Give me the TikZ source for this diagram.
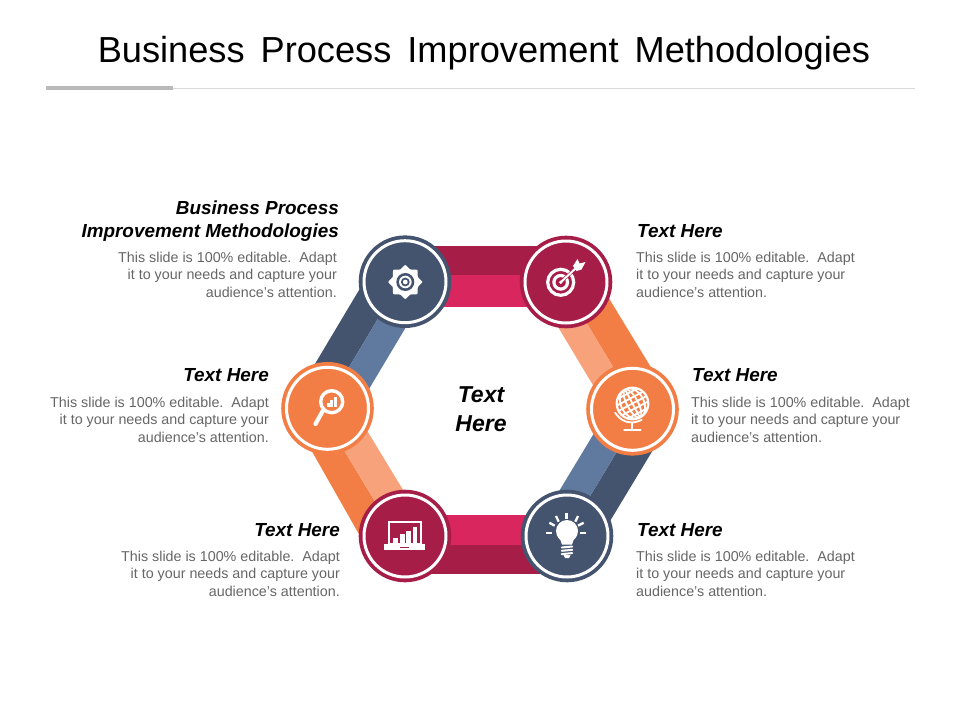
\documentclass[tikz,border=0pt]{standalone}
\usepackage{fontspec}
\setmainfont{Liberation Sans}
\usetikzlibrary{calc}
\definecolor{navy}{HTML}{44546F}
\definecolor{steel}{HTML}{5F7A9E}
\definecolor{orng}{HTML}{F37E45}
\definecolor{peach}{HTML}{F8A27C}
\definecolor{crim}{HTML}{A61E48}
\definecolor{pink}{HTML}{D9265E}
\definecolor{bodygrey}{HTML}{666666}
\newcommand{\hubbody}{\fontsize{14.3}{17.5}\selectfont\color{bodygrey}}
\newcommand{\hubhead}{\fontsize{18.9}{23}\selectfont\bfseries\itshape\color{black}}
\newcommand{\bodyL}{This slide is 100\% editable.\ \ Adapt\\it to your needs and capture your\\audience's attention.}
\newcommand{\ttlgap}{\hspace{16pt}}
\tikzset{
  x=1pt,y=-1pt,
  hub/.style={circle,minimum size=92.6pt,inner sep=0pt,fill=#1},
  ring/.style={draw=white,line width=3pt},
  bodyr/.style={anchor=north east,align=right,inner sep=0pt,font=\hubbody},
  bodyl/.style={anchor=north west,align=left,inner sep=0pt,font=\hubbody},
  headr/.style={anchor=base east,align=right,inner sep=0pt,font=\hubhead},
  headl/.style={anchor=base west,align=left,inner sep=0pt,font=\hubhead},
}
\begin{document}
\begin{tikzpicture}
\useasboundingbox (0,0) rectangle (960,720);
\fill[white] (0,0) rectangle (960,720);
% title
\node[inner sep=0pt,anchor=base,font=\fontsize{36.2}{40}\selectfont] (title) at (484,62.7) {Business\ttlgap Process\ttlgap Improvement\ttlgap Methodologies};
\coordinate (ruleA) at (46,88);
\coordinate (ruleB) at (173,88);
\coordinate (ruleC) at (915,88);
\draw[color=black!15,line width=1pt] (ruleB) -- (ruleC);
\draw[color=black!27,line width=3.5pt] (ruleA) -- (ruleB);
% hub anchors
\coordinate (gear) at (405,281.7);
\coordinate (target) at (566,282);
\coordinate (globe) at (632.5,409.3);
\coordinate (bulb) at (567,536);
\coordinate (laptop) at (405,536);
\coordinate (search) at (327.5,408.3);
% bands
\fill[crim] ($(gear)+(0,-35.7)$) rectangle ($(target)+(0,-7)$);
\fill[pink] ($(gear)+(0,-6.7)$) rectangle ($(target)+(0,25)$);
\fill[pink] ($(laptop)+(0,-21)$) rectangle ($(bulb)+(0,9)$);
\fill[crim] ($(laptop)+(0,9)$) rectangle ($(bulb)+(0,38)$);
\fill[navy] ($(gear)+(-41,0)$) -- ($(gear)+(-5,0)$) -- ($(search)+(-3,0)$) -- ($(search)+(-39,0)$) -- cycle;
\fill[steel] ($(gear)+(-5,0)$) -- ($(gear)+(28,0)$) -- ($(search)+(30,0)$) -- ($(search)+(-3,0)$) -- cycle;
\fill[orng] ($(search)+(-40,0)$) -- ($(search)+(-9,0)$) -- ($(laptop)+(-9,0)$) -- ($(laptop)+(-45,0)$) -- cycle;
\fill[peach] ($(search)+(-9,0)$) -- ($(search)+(26,0)$) -- ($(laptop)+(26,0)$) -- ($(laptop)+(-9,0)$) -- cycle;
\fill[orng] ($(target)+(33,0)$) -- ($(target)+(-4,0)$) -- ($(globe)+(6,0)$) -- ($(globe)+(44,0)$) -- cycle;
\fill[peach] ($(target)+(-4,0)$) -- ($(target)+(-35,0)$) -- ($(globe)+(-25,0)$) -- ($(globe)+(6,0)$) -- cycle;
\fill[navy] ($(globe)+(45,0)$) -- ($(globe)+(10,0)$) -- ($(bulb)+(-1,0)$) -- ($(bulb)+(34,0)$) -- cycle;
\fill[steel] ($(globe)+(10,0)$) -- ($(globe)+(-24,0)$) -- ($(bulb)+(-35,0)$) -- ($(bulb)+(-1,0)$) -- cycle;
% hubs
\node[hub=navy] (hubgear) at (gear) {};
\node[hub=crim] (hubtarget) at (target) {};
\node[hub=orng] (hubglobe) at (globe) {};
\node[hub=navy] (hubbulb) at (bulb) {};
\node[hub=crim] (hublaptop) at (laptop) {};
\node[hub=orng] (hubsearch) at (search) {};
\foreach \h in {gear,target,globe,bulb,laptop,search}{
  \draw[ring] (\h) circle (41);
}
% gear icon
\begin{scope}[shift={(405.3,282)}]
\fill[white] plot[smooth cycle,tension=.3] coordinates {
  (0,-17) (5,-12.6) (12,-12) (12.6,-5) (17,0) (12.6,5) (12,12) (5,12.6) (0,17) (-5,12.6) (-12,12) (-12.6,5) (-17,0) (-12.6,-5) (-12,-12) (-5,-12.6)};
\fill[navy] (0,0) circle (9);
\fill[white] (0,0) circle (6.3);
\fill[navy] (0,0) circle (4.4);
\fill[white] (0,0) circle (2.4);
\end{scope}
% target icon
\draw[white,line width=3.2pt] (560.7,282.3) circle (13);
\draw[white,line width=3.2pt] (560.7,282.3) circle (6.8);
\draw[crim,line width=3.2pt] (562.5,280.5) -- (576,268);
\fill[white] (560.7,282.3) circle (1.8);
\draw[white,line width=2pt,line cap=round] (560.7,282.3) -- (576,268);
\fill[white] (573,266) -- (577.5,259) -- (579.5,263.5) -- (585.5,262) -- (581.5,269.5) -- (576.5,271) -- cycle;
% search icon
\draw[white,line width=3.4pt] (331.7,401.7) circle (11);
\draw[white,line width=4.2pt,line cap=round] (323,410.5) -- (315.5,424);
\fill[white] (327,403) rectangle (329.6,406.8);
\fill[white] (330.4,400) rectangle (333,406.8);
\fill[white] (334,397) rectangle (336.8,406.8);
% globe icon
\begin{scope}[shift={(632.5,403.5)}]
\begin{scope}[rotate=28]
\clip (0,0) circle (16);
\foreach \rx in {5.5,11.5}{
  \draw[white,line width=1.8pt] (0,0) ellipse[x radius=\rx,y radius=16];
}
\draw[white,line width=1.8pt] (0,-16) -- (0,16);
\foreach \yy in {-11,-5.5,0,5.5,11}{
  \draw[white,line width=1.8pt] (-17,\yy) -- (17,\yy);
}
\end{scope}
\draw[white,line width=2.2pt] (0,0) circle (15.8);
\end{scope}
\draw[white,line width=1.8pt,line cap=round] plot[smooth,tension=.7] coordinates {(615.1,412.8) (622.2,419.9) (632,422.5) (641.7,419.9)};
\draw[white,line width=1.8pt] (632,422.5) -- (632,429.5);
\draw[white,line width=2pt,line cap=round] (624,429.5) -- (640.7,429.5);
% bulb icon
\fill[white] (567,531) circle (11);
\fill[white] (557.5,536.5) .. controls (560,539) and (561.5,541) .. (562,544.5) -- (572,544.5) .. controls (572.5,541) and (574,539) .. (576.5,536.5) -- cycle;
\foreach \yy in {547,550.3,553.6}{\draw[white,line width=2pt,line cap=round] (561.8,\yy+.5) -- (572.2,\yy-.5);}
\fill[white] (563.5,555) -- (570.5,555) -- (569,558) -- (565,558) -- cycle;
\foreach \xa/\ya/\xb/\yb in {566.5/513.3/566.5/519.3,556/516/558.7/521.7,578/516/575.3/521.7,549.3/522.7/554.7/525.7,583.7/522.7/578/525.7,546/533.3/552/533.3,579.8/533.3/586.3/533.3}{
  \draw[white,line width=2.3pt] (\xa,\ya) -- (\xb,\yb);
}
% laptop icon
\draw[white,line width=1.8pt] (389,522.3) rectangle (421,544);
\fill[white] (383.5,544.3) rectangle (424.5,550.3);
\fill[crim] (400,546.6) rectangle (408.5,547.8);
\fill[white] (392.7,538.3) rectangle (398.3,542.7);
\fill[white] (399.5,534.3) rectangle (404.5,542.7);
\fill[white] (406,530.7) rectangle (411,542.7);
\fill[white] (412.6,526.7) rectangle (417.4,542.7);
% centre
\node[inner sep=0pt,align=center,font=\fontsize{23}{29}\selectfont\bfseries\itshape] (centre) at (481,409.5) {Text\\Here};
% text blocks
\node[headr] (h1a) at (339,214.5) {Business Process};
\node[headr] (h1b) at (339,237.5) {Improvement Methodologies};
\node[bodyr] (b1) at (337,251.5) {This slide is 100\% editable.\ \ Adapt\\it to your needs and capture your\\audience's attention.};
\node[headr] (h2) at (269,381.5) {Text Here};
\node[bodyr] (b2) at (269,396.5) {\bodyL};
\node[headr] (h3) at (340,536.5) {Text Here};
\node[bodyr] (b3) at (340,550.5) {\bodyL};
\node[headl] (h4) at (637,237.5) {Text Here};
\node[bodyl] (b4) at (636,251.5) {\bodyL};
\node[headl] (h5) at (692,381.5) {Text Here};
\node[bodyl] (b5) at (691,396.5) {\bodyL};
\node[headl] (h6) at (637,536.5) {Text Here};
\node[bodyl] (b6) at (636,550.5) {\bodyL};
\end{tikzpicture}
\end{document}
